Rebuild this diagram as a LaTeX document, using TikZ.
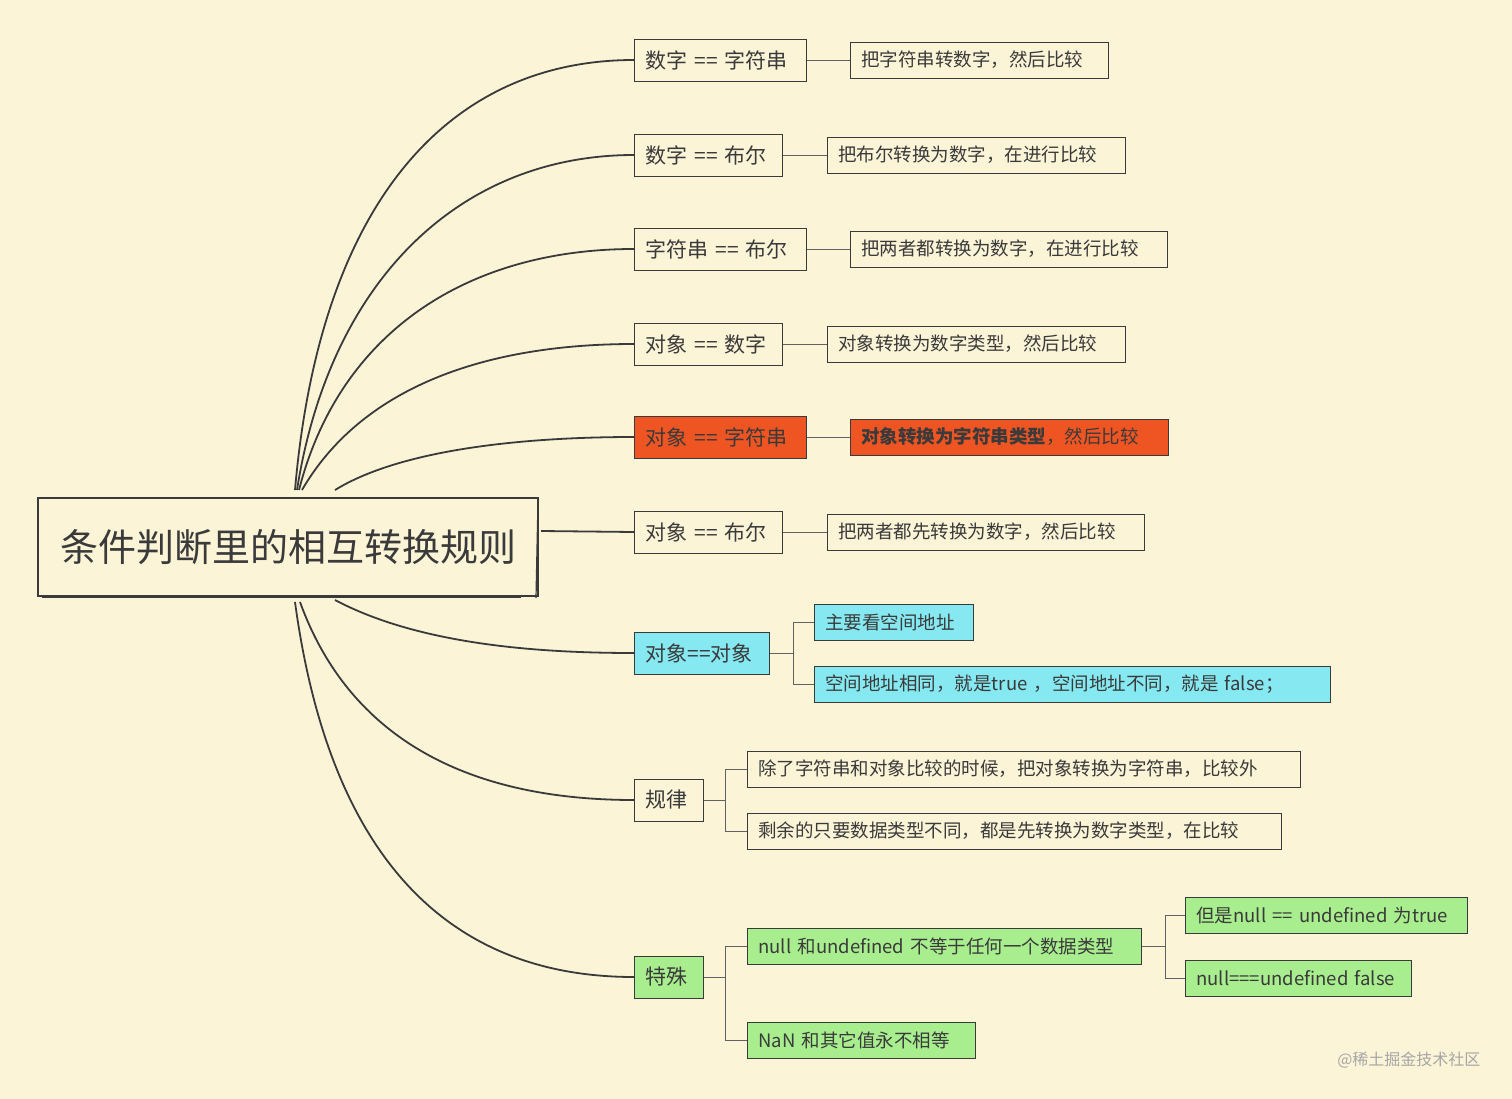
\documentclass[tikz,border=0pt]{standalone}
\usepackage{fontspec}
\setmainfont{Noto Sans CJK SC}
\usetikzlibrary{calc}
\definecolor{bg}{HTML}{FBF4D7}
\definecolor{redf}{HTML}{EE5523}
\definecolor{cyanf}{HTML}{86E9F1}
\definecolor{greenf}{HTML}{A8EE8E}
\definecolor{ink}{HTML}{3A3A3A}
\begin{document}
\begin{tikzpicture}[x=1pt,y=-1pt,
  box/.style={draw=ink,line width=0.8pt,anchor=west,minimum height=#1,inner xsep=11pt,align=left,text=ink},
  k1/.style={box=42,font=\fontsize{21}{21}\selectfont},
  k2/.style={box=36,font=\fontsize{18.5}{18.5}\selectfont},
  br/.style={draw=ink,line width=1.8pt},
  ln/.style={draw=ink!80,line width=0.6pt},
  sh/.style={draw=ink,line width=1.2pt}]
\fill[bg] (0,0) rectangle (1512,1099);
\useasboundingbox (0,0) rectangle (1512,1099);
% root
\node[draw=ink,line width=1.4pt,minimum width=500,minimum height=98,font=\fontsize{38}{38}\selectfont,text=ink] (root) at (288,547) {条件判断里的相互转换规则};
\draw[sh] (42,597)--(521,597); \draw[sh] (538,500)--(536,598);
% level 1
\newcommand{\lone}[5]{\node[k1,text width=#4-22,#5] (#1) at (634,#2) {#3};}
\lone{a1}{60}{数字 == 字符串}{172}{}
\lone{a2}{155}{数字 == 布尔}{148}{}
\lone{a3}{249}{字符串 == 布尔}{172}{}
\lone{a4}{344}{对象 == 数字}{148}{}
\lone{a5}{437}{对象 == 字符串}{172}{fill=redf}
\lone{a6}{532}{对象 == 布尔}{148}{}
\lone{a7}{653}{对象==对象}{135}{fill=cyanf}
\lone{a8}{800}{规律}{69}{}
\lone{a9}{977}{特殊}{69}{fill=greenf}
% level 2
\newcommand{\ltwo}[6]{\node[k2,text width=#5-22,#6] (#1) at (#3,#2) {#4};}
\ltwo{b1}{60}{850}{把字符串转数字，然后比较}{258}{}
\ltwo{b2}{155}{827}{把布尔转换为数字，在进行比较}{298}{}
\ltwo{b3}{249}{850}{把两者都转换为数字，在进行比较}{317}{}
\ltwo{b4}{344}{827}{对象转换为数字类型，然后比较}{298}{}
\ltwo{b5}{437}{850}{\textbf{对象转换为字符串类型}，然后比较}{318}{fill=redf}
\ltwo{b6}{532}{827}{把两者都先转换为数字，然后比较}{317}{}
\ltwo{c1}{622}{814}{主要看空间地址}{159}{fill=cyanf}
\ltwo{c2}{684}{814}{空间地址相同，就是true ，空间地址不同，就是 false；}{516}{fill=cyanf}
\ltwo{d1}{769}{747}{除了字符串和对象比较的时候，把对象转换为字符串，比较外}{553}{}
\ltwo{d2}{831}{747}{剩余的只要数据类型不同，都是先转换为数字类型，在比较}{534}{}
\ltwo{e1}{946}{747}{null 和undefined 不等于任何一个数据类型}{394}{fill=greenf}
\ltwo{e2}{1040}{747}{NaN 和其它值永不相等}{228}{fill=greenf}
\ltwo{f1}{915}{1185}{但是null == undefined 为true}{282}{fill=greenf}
\ltwo{f2}{978}{1185}{null===undefined false}{226}{fill=greenf}
% branches from root
\draw[br] (295,490) .. controls (320,200) and (450,60) .. (a1.west);
\draw[br] (297,490) .. controls (330,280) and (460,155) .. (a2.west);
\draw[br] (299,490) .. controls (340,330) and (470,249) .. (a3.west);
\draw[br] (302,490) .. controls (360,390) and (480,344) .. (a4.west);
\draw[br] (335,490) .. controls (400,450) and (520,437) .. (a5.west);
\draw[br] (541,531) -- (a6.west);
\draw[br] (335,600) .. controls (420,645) and (540,653) .. (a7.west);
\draw[br] (300,602) .. controls (350,740) and (470,800) .. (a8.west);
\draw[br] (295,602) .. controls (330,860) and (450,977) .. (a9.west);
% level-1 to level-2
\foreach \p/\c in {a1/b1,a2/b2,a3/b3,a4/b4,a5/b5,a6/b6}{\draw[ln] (\p.east) -- (\c.west);}
\draw[ln] (a7.east) -- ++(24,0); \draw[ln] (c1.west) -| (793,684) -- (c2.west);
\draw[ln] (a8.east) -- ++(22,0); \draw[ln] (d1.west) -| (725,831) -- (d2.west);
\draw[ln] (a9.east) -- ++(22,0); \draw[ln] (e1.west) -| (725,1040) -- (e2.west);
\draw[ln] (e1.east) -- ++(24,0); \draw[ln] (f1.west) -| (1165,978) -- (f2.west);
\node[text=gray!70,font=\fontsize{16}{16}\selectfont,anchor=east] (wm) at (1484,1060) {@稀土掘金技术社区};
\end{tikzpicture}
\end{document}
